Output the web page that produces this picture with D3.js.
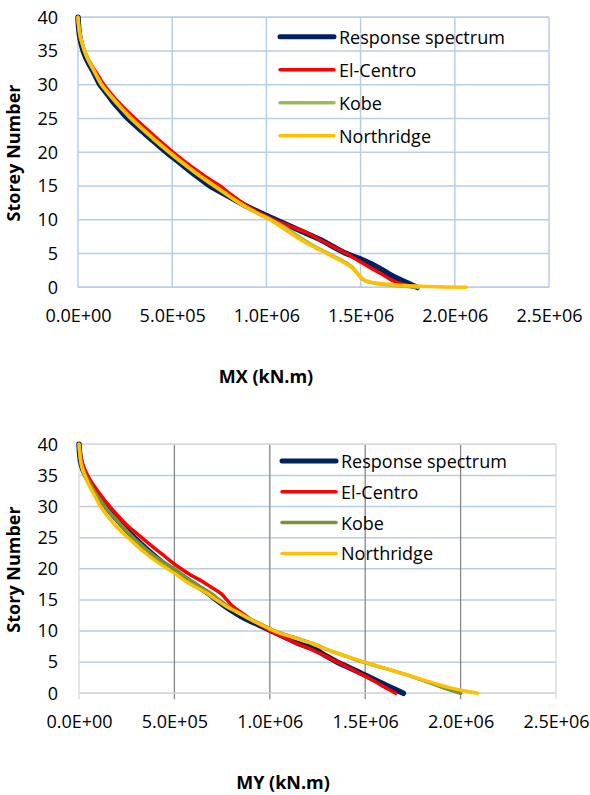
<!DOCTYPE html>
<html>
<head>
<meta charset="utf-8">
<script src="https://cdn.jsdelivr.net/npm/d3@7"></script>
<style>
  body { margin: 0; background: #fff; }
  text { font-family: "Open Sans", sans-serif; fill: #000; }
</style>
</head>
<body>
<div class="vis-moments"></div>
<script>
// storey numbers, bottom to top
var storeys = [0,1,2,3,4,5,6,7,8,9,10,11,12,13,14,15,16,17,18,19,20,
               21,22,23,24,25,26,27,28,29,30,31,32,33,34,35,36,37,38,39,40];

var seriesNames = ["Response spectrum", "El-Centro", "Kobe", "Northridge"];

// MX (kN.m), storey 0 -> 40
var mxResponse = [18.0e5,17.2e5,16.5e5,15.9e5,15.15e5,14.25e5,13.55e5,12.9e5,12.1e5,11.3e5,10.5e5,
                  9.7e5,8.95e5,8.3e5,7.65e5,7.0e5,6.52e5,6.05e5,5.6e5,5.15e5,4.7e5,
                  4.28e5,3.86e5,3.45e5,3.04e5,2.65e5,2.32e5,2.0e5,1.72e5,1.45e5,1.17e5,
                  0.98e5,0.8e5,0.6e5,0.42e5,0.28e5,0.18e5,0.1e5,0.05e5,0.02e5,0];
var mxElCentro = [17.8e5,16.7e5,16.1e5,15.45e5,14.85e5,14.25e5,13.55e5,12.85e5,12.2e5,11.3e5,10.4e5,
                  9.65e5,9.0e5,8.5e5,8.0e5,7.54e5,6.98e5,6.45e5,5.97e5,5.5e5,5.05e5,
                  4.63e5,4.22e5,3.82e5,3.42e5,3.03e5,2.65e5,2.3e5,1.96e5,1.66e5,1.38e5,
                  1.15e5,0.92e5,0.7e5,0.5e5,0.35e5,0.22e5,0.12e5,0.06e5,0.02e5,0];
var mxKobe = [18.05e5,15.2e5,14.85e5,14.55e5,14.0e5,13.3e5,12.6e5,12.0e5,11.45e5,10.9e5,10.25e5,
              9.5e5,8.85e5,8.28e5,7.75e5,7.22e5,6.7e5,6.2e5,5.73e5,5.27e5,4.83e5,
              4.4e5,3.98e5,3.57e5,3.18e5,2.8e5,2.46e5,2.13e5,1.82e5,1.52e5,1.24e5,
              1.04e5,0.85e5,0.66e5,0.48e5,0.34e5,0.23e5,0.13e5,0.07e5,0.03e5,0];
var mxNorthridge = [20.6e5,15.25e5,14.85e5,14.5e5,13.9e5,13.2e5,12.5e5,11.85e5,11.3e5,10.75e5,10.2e5,
                    9.5e5,8.86e5,8.3e5,7.8e5,7.27e5,6.75e5,6.25e5,5.78e5,5.32e5,4.88e5,
                    4.45e5,4.03e5,3.62e5,3.23e5,2.85e5,2.5e5,2.18e5,1.86e5,1.56e5,1.27e5,
                    1.06e5,0.87e5,0.68e5,0.5e5,0.36e5,0.24e5,0.14e5,0.07e5,0.03e5,0];

// MY (kN.m), storey 0 -> 40
var myResponse = [17.0e5,16.3e5,15.6e5,14.95e5,14.25e5,13.55e5,12.95e5,12.4e5,11.5e5,10.8e5,10.1e5,
                  9.4e5,8.7e5,8.15e5,7.65e5,7.2e5,6.8e5,6.3e5,5.8e5,5.3e5,4.85e5,
                  4.38e5,3.98e5,3.6e5,3.25e5,2.9e5,2.57e5,2.26e5,1.96e5,1.68e5,1.42e5,
                  1.18e5,0.95e5,0.72e5,0.52e5,0.35e5,0.2e5,0.1e5,0.05e5,0.02e5,0];
var myElCentro = [16.6e5,16.0e5,15.45e5,14.85e5,14.2e5,13.55e5,12.9e5,12.2e5,11.4e5,10.7e5,10.05e5,
                  9.5e5,8.95e5,8.5e5,8.05e5,7.75e5,7.45e5,6.95e5,6.45e5,5.85e5,5.35e5,
                  4.9e5,4.5e5,4.08e5,3.68e5,3.29e5,2.9e5,2.52e5,2.2e5,1.9e5,1.62e5,
                  1.35e5,1.1e5,0.86e5,0.64e5,0.45e5,0.3e5,0.18e5,0.1e5,0.03e5,0];
var myKobe = [20.0e5,19.0e5,18.1e5,17.15e5,16.05e5,14.9e5,13.95e5,13.0e5,12.25e5,11.25e5,10.3e5,
              9.6e5,8.95e5,8.35e5,7.8e5,7.35e5,6.95e5,6.4e5,5.9e5,5.45e5,5.0e5,
              4.45e5,3.98e5,3.57e5,3.2e5,2.85e5,2.53e5,2.22e5,1.92e5,1.63e5,1.36e5,
              1.12e5,0.9e5,0.7e5,0.52e5,0.35e5,0.22e5,0.12e5,0.06e5,0.02e5,0];
var myNorthridge = [20.9e5,19.3e5,18.2e5,17.15e5,16.05e5,14.95e5,13.95e5,13.0e5,12.2e5,11.2e5,10.25e5,
                    9.55e5,8.9e5,8.3e5,7.7e5,7.2e5,6.75e5,6.15e5,5.6e5,5.15e5,4.65e5,
                    4.15e5,3.7e5,3.3e5,2.93e5,2.57e5,2.22e5,1.9e5,1.62e5,1.36e5,1.12e5,
                    0.95e5,0.78e5,0.6e5,0.44e5,0.3e5,0.18e5,0.1e5,0.06e5,0.03e5,0];

var xTicks = [0, 5e5, 10e5, 15e5, 20e5, 25e5];
var yTicks = [0, 5, 10, 15, 20, 25, 30, 35, 40];

// excel style 0.0E+00
function sciFormat(v) {
  if (v === 0) return "0.0E+00";
  var p = d3.format(".1e")(v).split("e");
  var ex = +p[1];
  return p[0] + "E" + (ex < 0 ? "-" : "+") + String(Math.abs(ex)).padStart(2, "0");
}

var svg = d3.select(".vis-moments")
  .append("svg")
    .attr("width", 590)
    .attr("height", 795);

var draw = function(cfg) {
  var width = cfg.right - cfg.left,
      height = cfg.bottom - cfg.top;

  var g = svg.append("g")
    .attr("transform", "translate(" + cfg.left + "," + cfg.top + ")");

  var x = d3.scaleLinear().domain([0, 25e5]).range([0, width]);
  var y = d3.scaleLinear().domain([0, 40]).range([height, 0]);

  // horizontal grid
  g.append("g").selectAll("line")
    .data(yTicks)
    .enter().append("line")
      .attr("x1", 0).attr("x2", width)
      .attr("y1", function(d) { return y(d); })
      .attr("y2", function(d) { return y(d); })
      .attr("stroke", cfg.hGrid)
      .attr("stroke-width", 1.5);

  // vertical grid
  g.append("g").selectAll("line")
    .data(xTicks)
    .enter().append("line")
      .attr("x1", function(d) { return x(d); })
      .attr("x2", function(d) { return x(d); })
      .attr("y1", 0).attr("y2", height + cfg.tick)
      .attr("stroke", function(d) { return (d === 0 || d === 25e5) ? cfg.frame : cfg.vGrid; })
      .attr("stroke-width", cfg.vWidth);

  // frame
  g.append("line").attr("x1", 0).attr("x2", width).attr("y1", 0).attr("y2", 0)
    .attr("stroke", cfg.frame).attr("stroke-width", 1.5);
  g.append("line").attr("x1", 0).attr("x2", width).attr("y1", height).attr("y2", height)
    .attr("stroke", cfg.frame).attr("stroke-width", 1.5);

  // X axis labels
  var xAxis = g.append("g")
    .attr("transform", "translate(0," + height + ")")
    .call(d3.axisBottom(x).tickValues(xTicks).tickFormat(sciFormat).tickSize(0).tickPadding(22));
  // Y axis labels
  var yAxis = g.append("g")
    .call(d3.axisLeft(y).tickValues(yTicks).tickSize(0).tickPadding(cfg.yPad));
  [xAxis, yAxis].forEach(function(a) {
    a.select(".domain").remove();
    a.selectAll("text")
      .style("font-family", '"Open Sans", sans-serif')
      .style("font-size", "18px")
      .attr("fill", "#000");
  });

  var line = d3.line()
    .x(function(d) { return x(d.v); })
    .y(function(d) { return y(d.s); })
    .curve(d3.curveCatmullRom.alpha(0.5));

  cfg.series.forEach(function(sr, i) {
    var pts = storeys.map(function(s, k) { return {s: s, v: sr.values[k]}; });
    g.append("path")
      .datum(pts)
      .attr("fill", "none")
      .attr("stroke", sr.color)
      .attr("stroke-width", i === 0 ? 5.5 : 3.5)
      .attr("stroke-linejoin", "round")
      .attr("stroke-linecap", "round")
      .attr("d", line);
  });

  // legend
  var lg = svg.append("g");
  cfg.series.forEach(function(sr, i) {
    var ly = cfg.legY + i * cfg.legStep;
    lg.append("line")
      .attr("x1", cfg.legX).attr("x2", cfg.legX + 54)
      .attr("y1", ly).attr("y2", ly)
      .attr("stroke", sr.color)
      .attr("stroke-width", i === 0 ? 5 : 3.5)
      .attr("stroke-linecap", "round");
    lg.append("text")
      .attr("x", cfg.legX + 59).attr("y", ly)
      .attr("dominant-baseline", "central")
      .style("font-size", "18px")
      .text(seriesNames[i]);
  });

  // axis titles
  svg.append("text")
    .attr("transform", "translate(20," + cfg.yTitleY + ") rotate(-90)")
    .attr("text-anchor", "middle")
    .style("font-size", "18px")
    .style("font-weight", "bold")
    .text(cfg.yTitle);
  svg.append("text")
    .attr("x", cfg.xTitleX).attr("y", cfg.xTitleY)
    .attr("text-anchor", "middle")
    .style("font-size", "18px")
    .style("font-weight", "bold")
    .text(cfg.xTitle);
};

draw({
  left: 78, right: 549, top: 17.3, bottom: 287.3,
  hGrid: "#b9cde5", vGrid: "#b9cde5", frame: "#b9cde5", vWidth: 1.5, tick: 0, yPad: 20,
  series: [
    {values: mxResponse, color: "#002060"},
    {values: mxElCentro, color: "#ff0000"},
    {values: mxKobe, color: "#9bbb59"},
    {values: mxNorthridge, color: "#ffc000"}
  ],
  legX: 280, legY: 36.7, legStep: 33,
  yTitle: "Storey Number", yTitleY: 153,
  xTitle: "MX (kN.m)", xTitleX: 266, xTitleY: 383
});

draw({
  left: 79, right: 556, top: 444.3, bottom: 693.3,
  hGrid: "#b9cde5", vGrid: "#878787", frame: "#d9d9d9", vWidth: 1.3, tick: 6, yPad: 21,
  series: [
    {values: myResponse, color: "#002060"},
    {values: myElCentro, color: "#ff0000"},
    {values: myKobe, color: "#77933c"},
    {values: myNorthridge, color: "#ffc000"}
  ],
  legX: 282, legY: 461, legStep: 30.8,
  yTitle: "Story Number", yTitleY: 569.5,
  xTitle: "MY (kN.m)", xTitleX: 283, xTitleY: 789
});
</script>
</body>
</html>
